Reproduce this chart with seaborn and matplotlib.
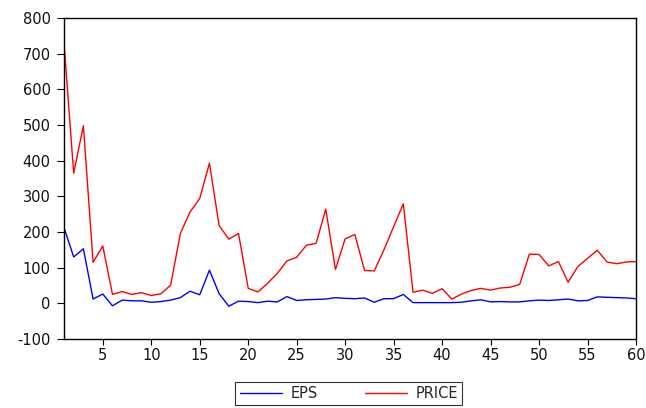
import numpy as np
import pandas as pd
import matplotlib
matplotlib.use("Agg")
import matplotlib.pyplot as plt
import seaborn as sns
from matplotlib.lines import Line2D

obs = list(range(1, 61))
eps = [212, 130, 153, 12, 26, -7, 9, 7, 7, 3,
       5, 9, 16, 34, 24, 93, 27, -8, 6, 5,
       2, 6, 4, 19, 8, 10, 11, 12, 16, 14,
       13, 15, 3, 13, 13, 25, 2, 2, 2, 2,
       2, 3, 7, 10, 4, 5, 4, 4, 7, 9,
       8, 10, 12, 7, 8, 18, 17, 16, 15, 13]
price = [730, 365, 498, 115, 161, 25, 33, 25, 30, 22,
         27, 51, 196, 256, 294, 393, 218, 180, 196, 42,
         32, 56, 84, 119, 129, 163, 168, 264, 95, 181,
         193, 92, 91, 150, 215, 279, 31, 37, 28, 41,
         12, 26, 36, 42, 37, 43, 45, 53, 138, 137,
         105, 117, 59, 103, 126, 149, 116, 111, 116, 117]
series_names = ["EPS", "PRICE"]
colors = ["#0000ff", "#ff0000"]
x_ticks = [5, 10, 15, 20, 25, 30, 35, 40, 45, 50, 55, 60]
y_ticks = [-100, 0, 100, 200, 300, 400, 500, 600, 700, 800]

df = pd.DataFrame({
    "obs": obs * 2,
    "value": eps + price,
    "series": [series_names[0]] * len(obs) + [series_names[1]] * len(obs),
})

sns.set_style("white")
plt.rcParams["font.family"] = ["DejaVu Sans"]
plt.rcParams["axes.unicode_minus"] = False

fig = plt.figure(figsize=(6.46, 4.08), dpi=100)
ax = fig.add_axes([64 / 646, 1 - 339 / 408, (636 - 64) / 646, (339 - 18) / 408])
sns.lineplot(data=df, x="obs", y="value", hue="series",
             palette=dict(zip(series_names, colors)), linewidth=1.0, ax=ax,
             legend=False)
ax.set_xlim(1, 60)
ax.set_ylim(-100, 800)
ax.set_xticks(x_ticks)
ax.set_yticks(y_ticks)
ax.set_xlabel("")
ax.set_ylabel("")
for s in ax.spines.values():
    s.set_color("black")
    s.set_linewidth(1.0)
ax.tick_params(axis="both", which="both", direction="out", width=0.8,
               color="black", labelsize=10.5, labelcolor="#111111",
               top=False, right=False)
ax.tick_params(axis="y", left=True, length=5, pad=4.5)
ax.tick_params(axis="x", bottom=True, length=4, pad=2.5)

handles = [Line2D([0], [0], color=c, lw=1.0) for c in colors]
leg = fig.legend(handles, series_names, loc="lower center", ncol=2,
                 bbox_to_anchor=(0.54, 0.003), frameon=True, fancybox=False,
                 edgecolor="black", fontsize=10.5, handlelength=2.9,
                 columnspacing=3.2, borderpad=0.3, handletextpad=0.6,
                 borderaxespad=0.1)
leg.get_frame().set_linewidth(0.8)

fig.savefig("out.png", dpi=100)
